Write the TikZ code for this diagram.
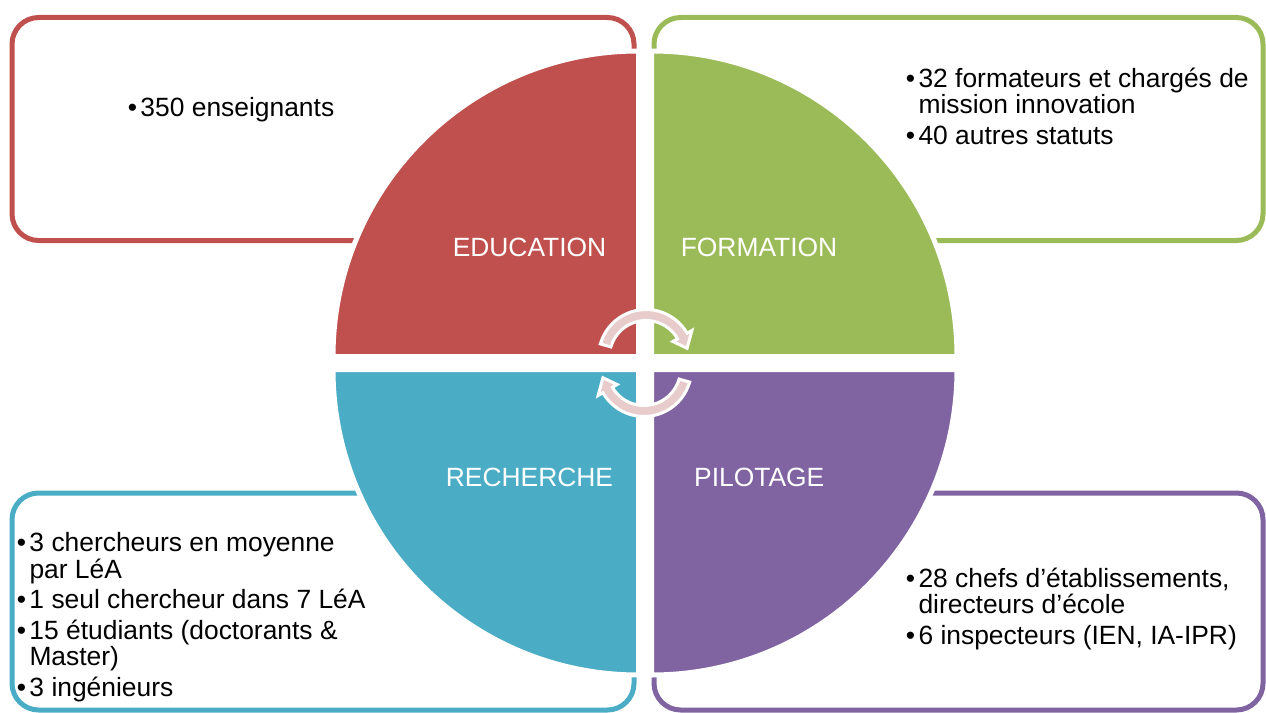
\documentclass[tikz,border=0pt]{standalone}
\usepackage{fontspec}
\setmainfont{Liberation Sans}

\definecolor{edured}{RGB}{192,80,77}
\definecolor{formgreen}{RGB}{155,187,89}
\definecolor{rechblue}{RGB}{75,172,198}
\definecolor{pilotpurple}{RGB}{128,100,162}
\definecolor{arrowpink}{RGB}{232,204,204}

\newcommand{\itemfont}{\fontsize{19.8}{19.9}\selectfont}
\newcommand{\blt}{\llap{\textbullet\hspace{2.5pt}}}

\tikzset{every picture/.style={line width=0.75pt}}
\tikzset{
  boxline/.style={line width=3.75pt, rounded corners=20pt},
  quarter/.style={draw=white, line width=3.75pt},
  cyclearrow/.style={fill=arrowpink, draw=white, line width=2.25pt, line join=miter},
  quadlabel/.style={text=white, font=\itemfont, inner sep=0pt},
  itemtext/.style={anchor=north west, align=left, inner sep=0pt, font=\itemfont}
}

\begin{document}
\begin{tikzpicture}[x=0.75pt,y=0.75pt,yscale=-1,xscale=1]
\useasboundingbox (0,0) rectangle (1266,713);

%Rounded Rect [id:educationbox]
\draw [boxline, draw=edured] (12,17.5) rectangle (634,240.5);
%Rounded Rect [id:formationbox]
\draw [boxline, draw=formgreen] (654,17.5) rectangle (1263,240.5);
%Rounded Rect [id:recherchebox]
\draw [boxline, draw=rechblue] (12,493) rectangle (634,710);
%Rounded Rect [id:pilotagebox]
\draw [boxline, draw=pilotpurple] (654,493) rectangle (1263,710);

%Shape: Quarter Circle [id:educationquad]
\filldraw [quarter, fill=edured] (638.5,356.5) -- (333,356.5) arc[start angle=180, end angle=270, radius=305.5] -- cycle;
%Shape: Quarter Circle [id:formationquad]
\filldraw [quarter, fill=formgreen] (651.5,356.5) -- (651.5,51) arc[start angle=270, end angle=360, radius=305.5] -- cycle;
%Shape: Quarter Circle [id:recherchequad]
\filldraw [quarter, fill=rechblue] (638.5,369.5) -- (333,369.5) arc[start angle=180, end angle=90, radius=305.5] -- cycle;
%Shape: Quarter Circle [id:pilotagequad]
\filldraw [quarter, fill=pilotpurple] (651.5,369.5) -- (957,369.5) arc[start angle=0, end angle=90, radius=305.5] -- cycle;

%Shape: Circular Arrow [id:upperarrow]
\begin{scope}[shift={(646,357)}]
\filldraw [cyclearrow] (196:47.5) arc[start angle=196, end angle=330, radius=47.5] -- (330:53) -- (348:42) -- (330:31) -- (330:36.5) arc[start angle=330, end angle=196, radius=36.5] -- cycle;
\end{scope}
%Shape: Circular Arrow [id:lowerarrow]
\begin{scope}[shift={(644,369)}]
\filldraw [cyclearrow] (16:47.5) arc[start angle=16, end angle=150, radius=47.5] -- (150:53) -- (168:42) -- (150:31) -- (150:36.5) arc[start angle=150, end angle=16, radius=36.5] -- cycle;
\end{scope}

% Text Node
\node [quadlabel] (education) at (529.5,247) {EDUCATION};
% Text Node
\node [quadlabel] (formation) at (759,247) {FORMATION};
% Text Node
\node [quadlabel] (recherche) at (529.5,477.3) {RECHERCHE};
% Text Node
\node [quadlabel] (pilotage) at (759.2,477.3) {PILOTAGE};

% Text Node
\node [itemtext] (eduitems) at (140,97) {\blt 350 enseignants};
% Text Node
\node [itemtext] (formitems) at (918,67.5) {\blt 32 formateurs et chargés de\\mission innovation\\[3pt]\blt 40 autres statuts};
% Text Node
\node [itemtext] (rechitems) at (29,532) {\blt 3 chercheurs en moyenne\\par LéA\\[3pt]\blt 1 seul chercheur dans 7 LéA\\[3pt]\blt 15 étudiants (doctorants \&\\Master)\\[3pt]\blt 3 ingénieurs};
% Text Node
\node [itemtext] (pilotitems) at (918,567.5) {\blt 28 chefs d’établissements,\\directeurs d’école\\[3pt]\blt 6 inspecteurs (IEN, IA-IPR)};

\end{tikzpicture}
\end{document}
